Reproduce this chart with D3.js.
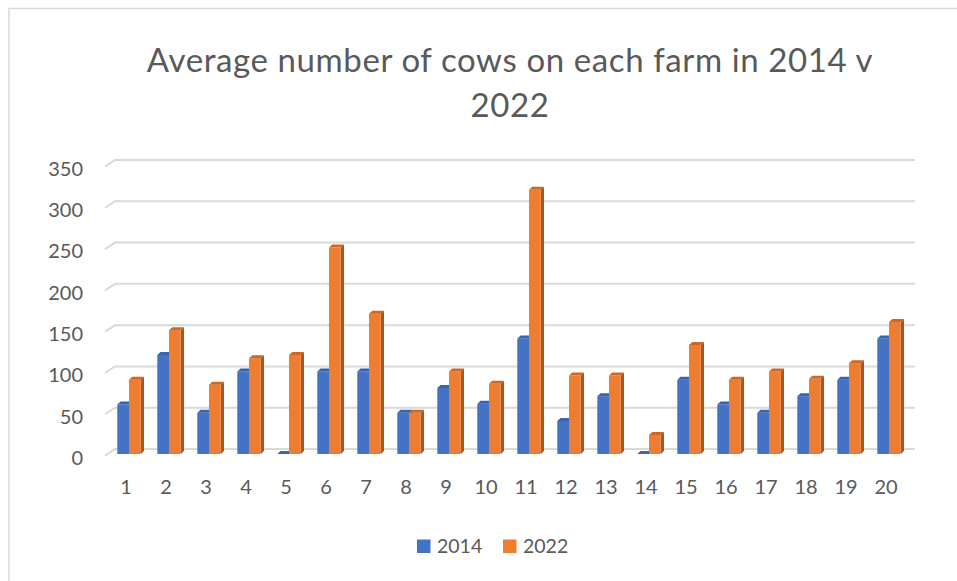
<!DOCTYPE html>
<html>
<head>
<meta charset="utf-8">
<script src="https://cdn.jsdelivr.net/npm/d3@7"></script>
<style>
  html, body { margin: 0; padding: 0; background: #fff; }
  svg { display: block; font-family: Lato, "Open Sans", sans-serif; }
</style>
</head>
<body>
<svg id="chart" width="957" height="581"></svg>
<script>
// Farm numbers along the x axis
const farms = ["1","2","3","4","5","6","7","8","9","10","11","12","13","14","15","16","17","18","19","20"];
// Average herd size per farm
const cows2014 = [60,120,50,100,0,100,100,50,80,61,140,40,70,0,90,60,50,70,90,140];
const cows2022 = [90,150,84,116,120,250,170,50,100,85,320,95,95,23,132,90,100,91,110,160];
const seriesNames = ["2014", "2022"];
const yTicks = [0,50,100,150,200,250,300,350];
const titleLines = ["Average number of cows on each farm in 2014 v", "2022"];

const colors = {
  "2014": { front: "#4472C4", side: "#2F528F", top: "#3963AD" },
  "2022": { front: "#ED7D31", side: "#A9561F", top: "#C8682A" }
};

const svg = d3.select("#chart");
const textColor = "#595959";

// outer chart frame
svg.append("path")
  .attr("d", "M9,590 L9,8.5 L970,8.5")
  .attr("fill", "none").attr("stroke", "#d9d9d9").attr("stroke-width", 1.5);

// title
svg.append("g").selectAll("text").data(titleLines).join("text")
  .attr("x", 510).attr("y", (d, i) => 72 + i * 45)
  .attr("text-anchor", "middle")
  .attr("fill", textColor)
  .style("font-size", "33px")
  .style("letter-spacing", "0.6px")
  .text(d => d);

// scales
const x = d3.scaleBand().domain(farms).range([109, 909]).padding(0);
const barW = 11.7;
const xs = d3.scaleBand().domain(seriesNames)
  .range([x.bandwidth() / 2 - barW, x.bandwidth() / 2 + barW]).padding(0);
const y = d3.scaleLinear().domain([0, 350]).range([454, 165]);

// 3D wall offsets
const wallDx = 10, wallDy = -6.5;
const floorX0 = 105, plotRight = 915;

// gridlines on back wall with the short diagonal for the floor/side edge
const grid = svg.append("g");
yTicks.forEach(v => {
  const yb = y(v) - 5;
  grid.append("path")
    .attr("d", `M${floorX0},${yb - wallDy} L${floorX0 + wallDx},${yb} L${plotRight},${yb}`)
    .attr("fill", "none").attr("stroke", "#d9d9d9").attr("stroke-width", 2);
});

// y axis labels
const yAxis = d3.axisLeft(y).tickValues(yTicks).tickSize(0).tickPadding(0);
const gy = svg.append("g").attr("transform", "translate(83,4)").call(yAxis);
gy.select(".domain").remove();
gy.selectAll("text").attr("fill", textColor).style("font-size", "20px")
  .style("font-family", "Lato, 'Open Sans', sans-serif");

// x axis labels
const xAxis = d3.axisBottom(x).tickSize(0).tickPadding(0);
const gx = svg.append("g").attr("transform", "translate(-3,480)").call(xAxis);
gx.select(".domain").remove();
gx.selectAll("text").attr("fill", textColor).style("font-size", "20px")
  .style("font-family", "Lato, 'Open Sans', sans-serif");

// 3D columns
const depth = 3.3, rise = 3;
const base = y(0);
const rows = farms.map((f, i) => ({ farm: f, values: [
  { key: "2014", v: cows2014[i] }, { key: "2022", v: cows2022[i] }
]}));

const groups = svg.append("g").selectAll("g").data(rows).join("g")
  .attr("transform", d => `translate(${x(d.farm)},0)`);

groups.each(function(d) {
  const g = d3.select(this);
  d.values.forEach(s => {
    const x0 = xs(s.key), x1 = x0 + barW, yt = y(s.v);
    const c = colors[s.key];
    // right side face
    g.append("path")
      .attr("d", `M${x1},${yt} L${x1 + depth},${yt - rise} L${x1 + depth},${base - rise} L${x1},${base} Z`)
      .attr("fill", c.side);
    // front face
    g.append("rect")
      .attr("x", x0).attr("y", yt).attr("width", barW).attr("height", base - yt)
      .attr("fill", c.front);
    // top face
    g.append("path")
      .attr("d", `M${x0},${yt} L${x0 + depth},${yt - rise} L${x1 + depth},${yt - rise} L${x1},${yt} Z`)
      .attr("fill", c.top);
  });
});

// legend
const legend = svg.append("g");
const legendItems = [{ key: "2014", x: 417 }, { key: "2022", x: 503 }];
legendItems.forEach(it => {
  legend.append("rect").attr("x", it.x).attr("y", 539.5).attr("width", 13.5).attr("height", 13.5)
    .attr("fill", colors[it.key].front);
  legend.append("text").attr("x", it.x + 20).attr("y", 553)
    .attr("fill", textColor).style("font-size", "19.5px").text(it.key);
});
</script>
</body>
</html>
